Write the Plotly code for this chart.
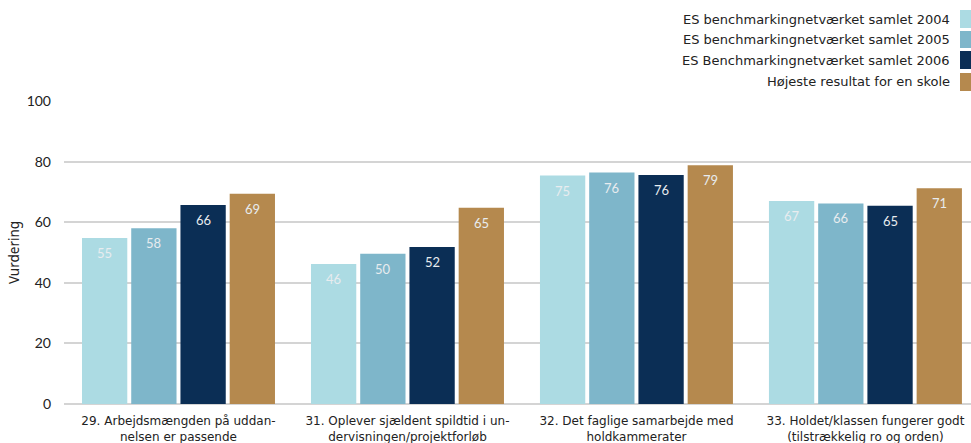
import plotly.graph_objects as go

categories = [
    "29. Arbejdsmængden på uddan-<br>nelsen er passende",
    "31. Oplever sjældent spildtid i un-<br>dervisningen/projektforløb",
    "32. Det faglige samarbejde med<br>holdkammerater",
    "33. Holdet/klassen fungerer godt<br>(tilstrækkelig ro og orden)",
]
series_names = [
    "ES benchmarkingnetværket samlet 2004",
    "ES benchmarkingnetværket samlet 2005",
    "ES Benchmarkingnetværket samlet 2006",
    "Højeste resultat for en skole",
]
values_2004 = [54.8, 46.2, 75.4, 67.0]
values_2005 = [58.0, 49.6, 76.4, 66.2]
values_2006 = [65.7, 51.8, 75.6, 65.4]
values_max = [69.4, 64.8, 78.8, 71.2]
labels_2004 = ["55", "46", "75", "67"]
labels_2005 = ["58", "50", "76", "66"]
labels_2006 = ["66", "52", "76", "65"]
labels_max = ["69", "65", "79", "71"]
y_ticks = [0, 20, 40, 60, 80, 100]

colors = ["#acdbe3", "#7eb6ca", "#0b2e55", "#b5894e"]
all_values = [values_2004, values_2005, values_2006, values_max]
all_labels = [labels_2004, labels_2005, labels_2006, labels_max]

x_pos = list(range(len(categories)))

W, H = 971, 443
pl, pr, pt, pb = 64, 0, 101, 39
pw, ph = W - pl - pr, H - pt - pb
BARGAP = 0.14
n_series = len(series_names)
slot = (1 - BARGAP) / n_series

fig = go.Figure()
for i, (name, vals, labs, col) in enumerate(zip(series_names, all_values, all_labels, colors)):
    fig.add_trace(go.Bar(
        x=x_pos, y=vals, name=name,
        marker=dict(color=col, line=dict(width=0)),
        showlegend=False, hoverinfo="skip",
    ))
    off = (i - (n_series - 1) / 2) * slot
    for xc, v, lab in zip(x_pos, vals, labs):
        fig.add_annotation(
            x=xc + off, y=v, xref="x", yref="y", text=lab, showarrow=False,
            xanchor="center", yanchor="middle", yshift=-15,
            font=dict(family="Lato", size=13, color="#e8ecef"),
        )

# legend built from series names (text right-aligned, swatch on the right)
row_y = [19, 39.5, 60, 81]
swatch_rows = [(10, 28), (31, 48), (51, 69), (73, 91)]
for name, col, yy, (y0, y1) in zip(series_names, colors, row_y, swatch_rows):
    fig.add_annotation(
        x=(952 - pl) / pw, y=1 - (yy - pt) / ph, xref="paper", yref="paper",
        text=name, showarrow=False, xanchor="right", yanchor="middle",
        font=dict(family="DejaVu Sans", size=13, color="#222222"),
    )
    fig.add_shape(
        type="rect", xref="paper", yref="paper",
        x0=(960 - pl) / pw, x1=1.0,
        y0=1 - (y1 - pt) / ph, y1=1 - (y0 - pt) / ph,
        fillcolor=col, line=dict(width=0), layer="above",
    )

fig.update_layout(
    width=W, height=H,
    margin=dict(l=pl, r=pr, t=pt, b=pb),
    paper_bgcolor="white", plot_bgcolor="white",
    barmode="group", bargap=BARGAP, bargroupgap=0.08,
    xaxis=dict(
        tickmode="array", tickvals=x_pos, ticktext=categories,
        range=[-0.5, 3.461], showgrid=False, ticks="",
        tickfont=dict(family="DejaVu Sans", size=12, color="#222222"),
        showline=False, zeroline=False, ticklabelstandoff=8,
    ),
    yaxis=dict(
        range=[0, 100], tickvals=y_ticks, showgrid=True, gridcolor="#d4d4d4",
        gridwidth=1.5, zeroline=True, zerolinecolor="#d4d4d4", zerolinewidth=1.5,
        tickfont=dict(family="Lato", size=14, color="#222222"),
        ticks="", ticklabelstandoff=12,
        title=dict(text="Vurdering", font=dict(family="Noto Sans", size=13.5, color="#222222"), standoff=3),
    ),
)

fig.write_html(
    "out.html",
    config={"displayModeBar": False},
    post_script="document.body.style.margin='0';document.body.style.overflow='hidden';",
)
